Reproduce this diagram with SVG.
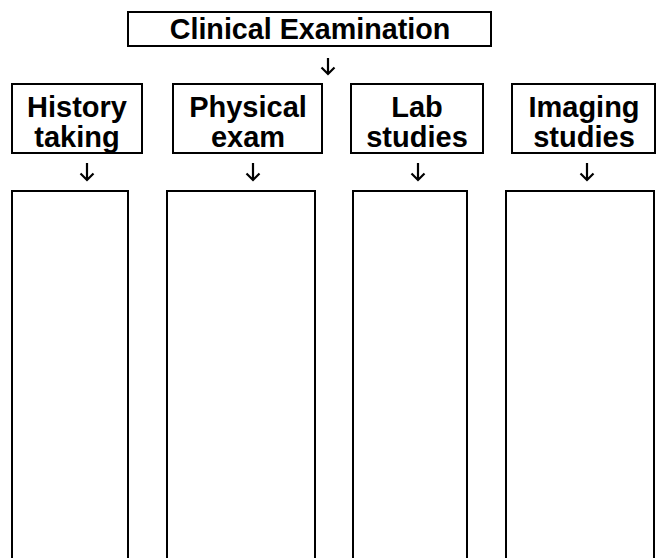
<svg xmlns="http://www.w3.org/2000/svg" width="658" height="558" viewBox="0 0 658 558">
<style>
.box{fill:#fff;stroke:#000;stroke-width:2}
.t{font-family:"Liberation Sans",Arial,sans-serif;font-weight:bold;font-size:29px;text-anchor:middle;fill:#000}
.arr{fill:none;stroke:#000;stroke-width:2.2;stroke-linecap:butt}
</style>
<rect width="658" height="558" fill="#fff"/>
<g id="connectors">
<path class="arr" d="M328 58V74M321.5 67.5L328 74L334.5 67.5"/>
<path class="arr" d="M87 163V180M80.5 173.5L87 180L93.5 173.5"/>
<path class="arr" d="M253 163V180M246.5 173.5L253 180L259.5 173.5"/>
<path class="arr" d="M418 163V180M411.5 173.5L418 180L424.5 173.5"/>
<path class="arr" d="M587 163V180M580.5 173.5L587 180L593.5 173.5"/>
</g>
<g id="clinical">
<rect class="box" x="128" y="12" width="363" height="34"/>
<text class="t" x="310" y="38.5" style="font-size:28.7px">Clinical Examination</text>
</g>
<g id="history">
<rect class="box" x="12" y="84" width="130" height="69"/>
<text class="t" x="77" y="117">History</text>
<text class="t" x="77" y="146.5">taking</text>
</g>
<g id="physical">
<rect class="box" x="173" y="84" width="149" height="69"/>
<text class="t" x="248" y="117">Physical</text>
<text class="t" x="248" y="146.5">exam</text>
</g>
<g id="lab">
<rect class="box" x="351" y="84" width="132" height="69"/>
<text class="t" x="417" y="117">Lab</text>
<text class="t" x="417" y="146.5">studies</text>
</g>
<g id="imaging">
<rect class="box" x="512" y="84" width="143" height="69"/>
<text class="t" x="584" y="117">Imaging</text>
<text class="t" x="584" y="146.5">studies</text>
</g>
<g id="history-list"><rect class="box" x="12" y="191" width="116" height="380"/></g>
<g id="physical-list"><rect class="box" x="167" y="191" width="148" height="380"/></g>
<g id="lab-list"><rect class="box" x="353" y="191" width="114" height="380"/></g>
<g id="imaging-list"><rect class="box" x="506" y="191" width="148" height="380"/></g>
</svg>
